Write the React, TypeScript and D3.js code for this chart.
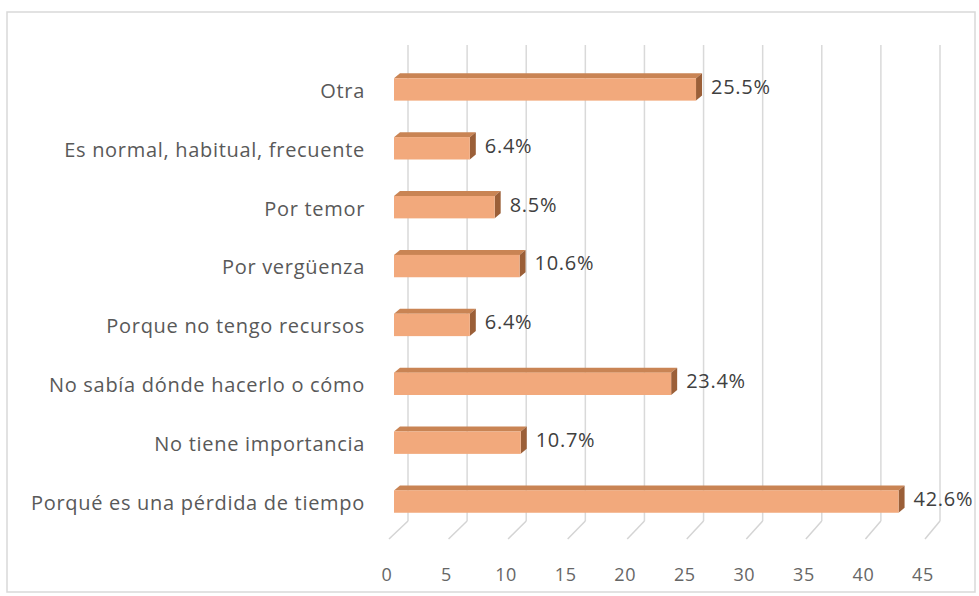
import * as d3 from "d3";

const categories = [
  "Otra",
  "Es normal, habitual, frecuente",
  "Por temor",
  "Por vergüenza",
  "Porque no tengo recursos",
  "No sabía dónde hacerlo o cómo",
  "No tiene importancia",
  "Porqué es una pérdida de tiempo",
];
const values = [25.5, 6.4, 8.5, 10.6, 6.4, 23.4, 10.7, 42.6];
const ticks = [0, 5, 10, 15, 20, 25, 30, 35, 40, 45];

const W = 979;
const H = 596;
const FONT = "'Open Sans', sans-serif";

export default function App() {
  // 3D-ish layout: back wall gridlines, bars mid-depth, labels on the front edge of the floor
  const xBack = d3.scaleLinear().domain([0, 45]).range([408, 940]);
  const xBar = d3.scaleLinear().domain([0, 45]).range([394, 927]);
  const xFront = d3.scaleLinear().domain([0, 45]).range([387, 923]);
  const y = d3
    .scaleBand<string>()
    .domain(categories)
    .range([60, 531])
    .paddingInner(0.62)
    .paddingOuter(0.31);

  const gridTop = 45;
  const floorBack = 521;
  const floorFront = 539;
  const dx = 6;
  const dy = 5;
  const h = y.bandwidth();

  return (
    <div style={{ position: "absolute", left: 0, top: 0 }}>
      <svg width={W} height={H} style={{ display: "block", background: "#fff" }}>
        <rect x={7} y={12} width={968} height={580} fill="#fff" stroke="#d9d9d9" strokeWidth={1.5} />

        {/* back wall gridlines */}
        {ticks.map((t) => (
          <line
            key={"g" + t}
            x1={xBack(t)}
            x2={xBack(t)}
            y1={gridTop}
            y2={floorBack}
            stroke="#d9d9d9"
            strokeWidth={1.5}
          />
        ))}

        {/* floor ticks */}
        {ticks.map((t) => (
          <line
            key={"f" + t}
            x1={xBack(t)}
            y1={floorBack}
            x2={xFront(t) + 2}
            y2={floorFront}
            stroke="#d4d4d4"
            strokeWidth={1.5}
          />
        ))}

        {ticks.map((t) => (
          <text
            key={"t" + t}
            x={xFront(t)}
            y={576}
            textAnchor="middle"
            dominantBaseline="middle"
            fontFamily={FONT}
            fontSize={18}
            letterSpacing={0.6}
            fill="#666"
          >
            {t}
          </text>
        ))}

        {/* bars */}
        {categories.map((c, i) => {
          const v = values[i];
          const y0 = y(c)!;
          const x0 = xBar(0);
          const x1 = xBar(v);
          const top = `${x0},${y0} ${x0 + dx},${y0 - dy} ${x1 + dx},${y0 - dy} ${x1},${y0}`;
          const side = `${x1},${y0} ${x1 + dx},${y0 - dy} ${x1 + dx},${y0 + h - dy} ${x1},${y0 + h}`;
          return (
            <g key={c}>
              <polygon points={top} fill="#c98454" />
              <polygon points={side} fill="#9b5f38" />
              <rect x={x0} y={y0} width={x1 - x0} height={h} fill="#f2a97c" />
              <text
                x={x1 + dx + 9}
                y={y0 + h / 2 - 1}
                dominantBaseline="middle"
                fontFamily={FONT}
                fontSize={20}
                letterSpacing={0.7}
                fill="#404040"
              >
                {v.toFixed(1)}%
              </text>
              <text
                x={365}
                y={y0 + h / 2 + 3}
                textAnchor="end"
                dominantBaseline="middle"
                fontFamily={FONT}
                fontSize={20}
                letterSpacing={0.7}
                fill="#595959"
              >
                {c}
              </text>
            </g>
          );
        })}
      </svg>
    </div>
  );
}
